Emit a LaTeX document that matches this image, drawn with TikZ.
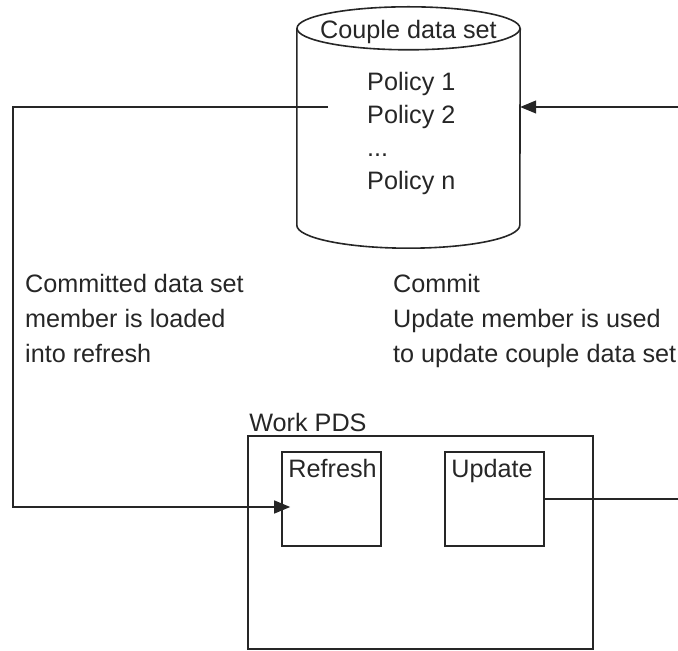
\documentclass[tikz,border=0pt]{standalone}
\usepackage{fontspec}
\setmainfont{Liberation Sans}
\usetikzlibrary{arrows.meta,positioning}

\begin{document}
\begin{tikzpicture}[x=1pt,y=1pt,
  font=\fontsize{25.2}{33}\selectfont,
  text=black!85,
  line/.style={draw=black!85,line width=1.6pt},
  box/.style={line,minimum width=99pt,minimum height=94pt,inner sep=0pt},
  link/.style={draw=black!85,line width=1.3pt},
  arr/.style={link,-{Triangle[length=16pt,width=13pt]}},
  txt/.style={inner sep=0pt,align=left},
  note/.style={txt,anchor=north west,font=\fontsize{25.2}{35}\selectfont}]
\useasboundingbox (0,0) rectangle (678,651);
\clip (0,0) rectangle (678,651);
% couple data set
\node[minimum width=223pt,minimum height=241pt,inner sep=0pt] (cds) at (408.5,523.5) {};
\draw[line] ([yshift=-21.5pt]cds.north) ellipse [x radius=111.5pt,y radius=21.5pt];
\draw[line] ([yshift=-21.5pt]cds.north west) -- ([yshift=23pt]cds.south west)
  arc[start angle=180,end angle=360,x radius=111.5pt,y radius=23pt]
  -- ([yshift=-21.5pt]cds.north east);
\node[txt] (cdsname) at ([yshift=-25.5pt]cds.north) {Couple data set};
\node[txt,anchor=north west] (pol) at (367,579) {Policy 1\\Policy 2\\...\\Policy n};
% notes
\node[note] (loadtxt) at (25,376.5) {Committed data set\\member is loaded\\into refresh};
\node[note] (committxt) at (393,376.5) {Commit\\Update member is used\\to update couple data set};
% work PDS
\node[line,minimum width=345pt,minimum height=213pt,inner sep=0pt] (wpds) at (420.5,108.5) {};
\node[txt,anchor=base west] (wpdsname) at ([shift={(2pt,4pt)}]wpds.north west) {Work PDS};
\node[box] (rfr) at (331.5,152) {};
\node[box] (upd) at (494.5,152) {};
\node[txt,anchor=base west] (rfrname) at ([shift={(7pt,-26pt)}]rfr.north west) {Refresh};
\node[txt,anchor=base west] (updname) at ([shift={(7pt,-26pt)}]upd.north west) {Update};
% connectors
\coordinate (src) at (328,544);
\coordinate (ltrn) at (13,144);
\coordinate (rtrn) at (700,152);
\draw[arr] (src) -| (ltrn) -- ([shift={(9pt,-8pt)}]rfr.west);
\draw[arr] (upd.east) -- (rtrn) |- (cds.east |- src);
\end{tikzpicture}
\end{document}
